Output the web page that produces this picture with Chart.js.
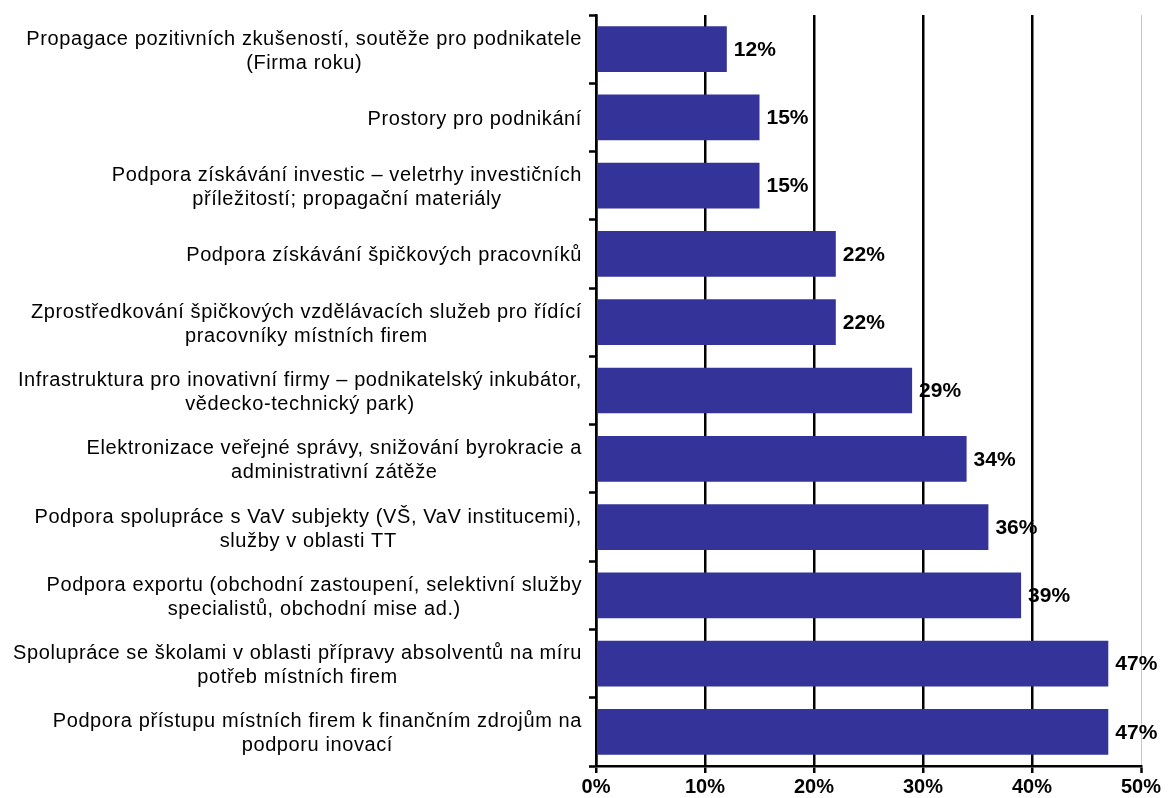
<!DOCTYPE html>
<html lang="cs">
<head>
<meta charset="utf-8">
<script src="https://cdn.jsdelivr.net/npm/chart.js@4/dist/chart.umd.min.js"></script>
<style>
    html, body { margin: 0; padding: 0; background: #ffffff; }
    #obal { width: 1169px; height: 798px; }
</style>
</head>
<body>
<div id="obal"><canvas id="grafPodpora" width="1169" height="798"></canvas></div>
<script>
// Kategorie (každá položka = řádky popisku)
const kategorie = [
    ["Propagace pozitivních zkušeností, soutěže pro podnikatele", "(Firma roku)"],
    ["Prostory pro podnikání"],
    ["Podpora získávání investic – veletrhy investičních", "příležitostí; propagační materiály"],
    ["Podpora získávání špičkových pracovníků"],
    ["Zprostředkování špičkových vzdělávacích služeb pro řídící", "pracovníky místních firem"],
    ["Infrastruktura pro inovativní firmy – podnikatelský inkubátor,", "vědecko-technický park)"],
    ["Elektronizace veřejné správy, snižování byrokracie a", "administrativní zátěže"],
    ["Podpora spolupráce s VaV subjekty (VŠ, VaV institucemi),", "služby v oblasti TT"],
    ["Podpora exportu (obchodní zastoupení, selektivní služby", "specialistů, obchodní mise ad.)"],
    ["Spolupráce se školami v oblasti přípravy absolventů na míru", "potřeb místních firem"],
    ["Podpora přístupu místních firem k finančním zdrojům na", "podporu inovací"]
];
const hodnoty = [12, 15, 15, 22, 22, 29, 34, 36, 39, 47, 47];
const osaX = [0, 10, 20, 30, 40, 50];

const pismo = "'Liberation Sans', Arial, sans-serif";

// Popisky kategorií: řádky centrované, blok zarovnaný k ose
const popiskyKategorii = {
    id: "popiskyKategorii",
    afterDraw(chart) {
        const ctx = chart.ctx;
        const y = chart.scales.y;
        const pravyOkraj = y.right - 14;
        const vyskaRadku = 24;
        ctx.save();
        ctx.font = "20px " + pismo;
        ctx.letterSpacing = "0.6px";
        ctx.fillStyle = "#000000";
        ctx.textAlign = "center";
        ctx.textBaseline = "middle";
        kategorie.forEach((radky, i) => {
            const stred = y.getPixelForValue(i) + 2;
            const sirka = Math.max(...radky.map(r => ctx.measureText(r).width));
            const cx = pravyOkraj - sirka / 2;
            radky.forEach((r, j) => {
                ctx.fillText(r, cx, stred + (j - (radky.length - 1) / 2) * vyskaRadku);
            });
        });
        ctx.restore();
    }
};

// Hodnoty za koncem sloupců
const popiskyHodnot = {
    id: "popiskyHodnot",
    afterDatasetsDraw(chart) {
        const ctx = chart.ctx;
        const meta = chart.getDatasetMeta(0);
        ctx.save();
        ctx.font = "bold 21px " + pismo;
        ctx.fillStyle = "#000000";
        ctx.textAlign = "left";
        ctx.textBaseline = "middle";
        meta.data.forEach((bar, i) => {
            ctx.fillText(hodnoty[i] + "%", bar.x + 7, bar.y + 1);
        });
        ctx.restore();
    }
};

const ctx = document.getElementById("grafPodpora").getContext("2d");
new Chart(ctx, {
    type: "bar",
    data: {
        labels: kategorie,
        datasets: [{
            data: hodnoty,
            backgroundColor: "#333399",
            borderWidth: 0,
            barPercentage: 0.67,
            categoryPercentage: 1
        }]
    },
    options: {
        indexAxis: "y",
        responsive: false,
        animation: false,
        layout: { padding: { top: 15, right: 28, left: 0, bottom: 0 } },
        plugins: {
            legend: { display: false },
            tooltip: { enabled: false }
        },
        scales: {
            x: {
                min: osaX[0],
                max: osaX[osaX.length - 1],
                afterBuildTicks: s => { s.ticks = osaX.map(v => ({ value: v })); },
                afterFit: s => { s.height = 32; },
                grid: {
                    color: c => c.index === osaX.length - 1 ? "#c8c8c8" : "#000000",
                    lineWidth: c => c.index === osaX.length - 1 ? 1 : 2.5,
                    tickColor: "#000000",
                    tickWidth: 2.5,
                    tickLength: 7
                },
                border: { color: "#000000", width: 2.5 },
                ticks: {
                    color: "#000000",
                    padding: 2,
                    font: { family: pismo, size: 20, weight: "bold" },
                    callback: v => v + "%"
                }
            },
            y: {
                afterFit: s => { s.width = 596; },
                grid: {
                    offset: true,
                    drawOnChartArea: false,
                    color: "#000000",
                    tickColor: "#000000",
                    tickWidth: 2.5,
                    tickLength: 7
                },
                border: { color: "#000000", width: 2.5 },
                ticks: { display: false }
            }
        }
    },
    plugins: [popiskyKategorii, popiskyHodnot]
});
</script>
</body>
</html>
